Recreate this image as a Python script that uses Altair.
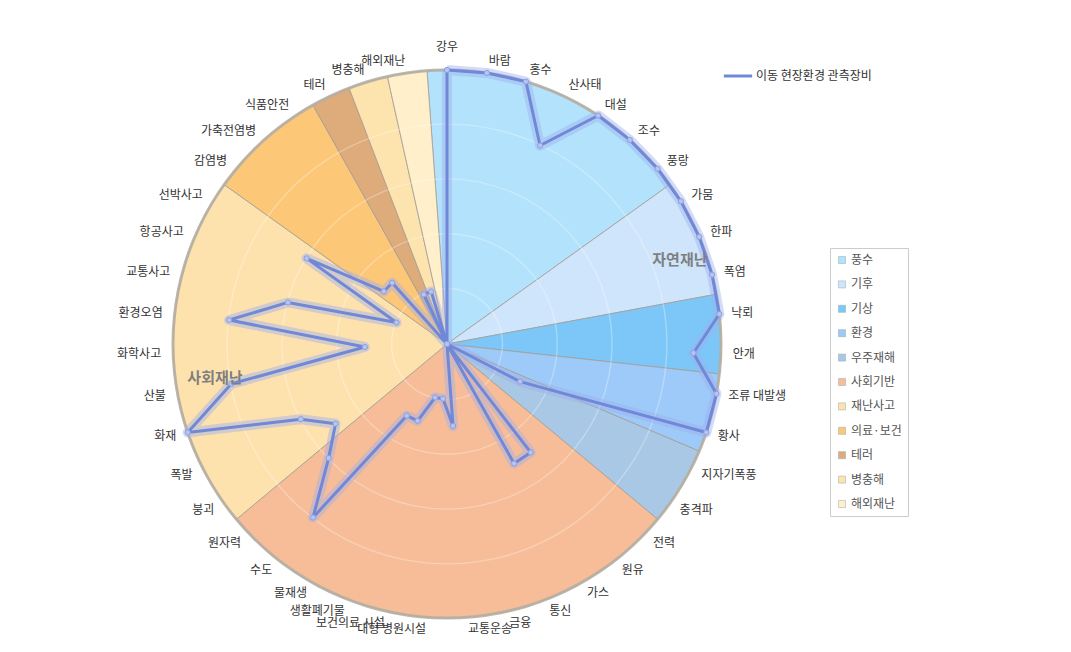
import altair as alt
import pandas as pd

# ---------------- data ----------------
categories = ["강우", "바람", "홍수", "산사태", "대설", "조수", "풍랑", "가뭄", "한파", "폭염",
              "낙뢰", "안개", "조류 대발생", "황사", "지자기폭풍", "충격파", "전력", "원유", "가스", "통신",
              "금융", "교통운송", "대형 병원시설", "보건의료 시설", "생활폐기물", "물재생", "수도", "원자력",
              "붕괴", "폭발", "화재", "산불", "화학사고", "환경오염", "교통사고", "항공사고", "선박사고",
              "감염병", "가축전염병", "식품안전", "테러", "병충해", "해외재난"]
values = [10, 10, 10, 8, 10, 10, 10, 10, 10, 10,
          10, 9, 10, 10, 3, 0, 0, 5, 5, 0,
          0, 3, 2, 2, 3, 3, 8, 6,
          5, 6, 10, 8, 3, 8, 6, 2, 6,
          3, 3, 0, 2, 2, 0]
groups = ["풍수", "기후", "기상", "환경", "우주재해", "사회기반", "재난사고", "의료·보건", "테러", "병충해", "해외재난"]
group_counts = [7, 3, 2, 2, 2, 12, 9, 3, 1, 1, 1]
group_colors = ["#b2e2fc", "#cfe5fb", "#7dc7f8", "#9dcaf9", "#a8c8e6", "#f6bd98",
                "#fee2ae", "#fdc778", "#deab7b", "#fde3ad", "#fff0cb"]
ring_levels = [2, 4, 6, 8]
series_name = "이동 현장환경 관측장비"
region_labels = ["자연재난", "사회재난"]

N = len(categories)
VMAX = 10
R = 274
FONT = "Noto Sans CJK KR"

radar = pd.DataFrame({"idx": list(range(N)) + [N],
                      "cat": categories + [categories[0]],
                      "value": values + [values[0]]})
labels_df = pd.DataFrame({"idx": list(range(N)), "cat": categories})
pie_df = pd.DataFrame({"group": groups, "count": group_counts, "order": list(range(len(groups)))})
ring_df = pd.DataFrame({"r": ring_levels})
region_df = pd.DataFrame({"label": region_labels, "px": [8.5, -8.47], "py": [3.07, -1.24]})

xs = alt.Scale(domain=[-VMAX, VMAX], nice=False, zero=False)
ys = alt.Scale(domain=[-VMAX, VMAX], nice=False, zero=False)

ang = f"datum.idx * 2 * PI / {N}"

# ---------------- pie background ----------------
pie = alt.Chart(pie_df).transform_window(
    cum="sum(count)", sort=[alt.SortField("order")], frame=[None, 0]
).transform_calculate(
    t0=f"(datum.cum - datum.count) * 2 * PI / {N} - PI / {N}",
    t1=f"datum.cum * 2 * PI / {N} - PI / {N}",
).mark_arc(radius=R, stroke="#a39d94", strokeWidth=0.8).encode(
    theta=alt.Theta("t0:Q", scale=None),
    theta2="t1:Q",
    fill=alt.Fill("group:N", scale=alt.Scale(domain=groups, range=group_colors),
                  sort=groups,
                  legend=alt.Legend(title=None, orient="none", legendX=657, legendY=178,
                                    strokeColor="#cccccc", fillColor="white", padding=6,
                                    symbolType="square", symbolSize=50, symbolStrokeColor="#9aa",
                                    symbolStrokeWidth=0.5, labelFontSize=12, labelColor="#555555",
                                    labelFont=FONT, rowPadding=12.4, labelOffset=3)),
)

rings = alt.Chart(ring_df).transform_calculate(r2="datum.r + 0.05").mark_arc(
    theta=0, theta2=6.2832, fill="white", opacity=0.3
).encode(
    radius=alt.Radius("r:Q", scale=alt.Scale(type="linear", domain=[0, VMAX], range=[0, R], zero=True)),
    radius2="r2:Q",
)

rim = alt.Chart(ring_df).transform_filter("datum.r == 2").mark_arc(
    theta=0, theta2=6.2832, radius=R + 1.5, radius2=R - 1.5, fill="#b5aea2"
).encode(opacity=alt.value(0.9))

# ---------------- radar line ----------------
radar_base = alt.Chart(radar).transform_calculate(
    x=f"datum.value * sin({ang})",
    y=f"datum.value * cos({ang})",
)

halo = radar_base.mark_line(strokeWidth=10, strokeJoin="round", color="#9fb0ea", opacity=0.45).encode(
    x=alt.X("x:Q", scale=xs, axis=None),
    y=alt.Y("y:Q", scale=ys, axis=None),
    order="idx:Q",
)

line = radar_base.mark_line(strokeWidth=3, strokeJoin="round").encode(
    x=alt.X("x:Q", scale=xs, axis=None),
    y=alt.Y("y:Q", scale=ys, axis=None),
    order="idx:Q",
    stroke=alt.Stroke("series:N", scale=alt.Scale(domain=[series_name], range=["#6f88d8"]),
                      legend=alt.Legend(title=None, orient="none", legendX=549, legendY=-10,
                                        symbolType="stroke", symbolSize=800, symbolStrokeWidth=3,
                                        labelFontSize=12, labelColor="#333333", labelFont=FONT,
                                        labelOffset=2)),
).transform_calculate(series=f"'{series_name}'")

points = radar_base.transform_filter(f"datum.idx < {N}").mark_point(
    filled=True, size=28, color="#b7c3f0", stroke="#8aa0e0", strokeWidth=1, opacity=1
).encode(
    x=alt.X("x:Q", scale=xs, axis=None),
    y=alt.Y("y:Q", scale=ys, axis=None),
)

# ---------------- category labels ----------------
LR = 286 / R * VMAX
lab_base = alt.Chart(labels_df).transform_calculate(
    s=f"sin({ang})",
    lx=f"{LR} * sin({ang})",
    ly=f"{LR} * cos({ang})",
    tx=f"{290 / R * VMAX} * sin({ang})",
    ty=f"{290 / R * VMAX} * cos({ang})",
)
lab_right = lab_base.transform_filter("datum.s > 0.01").mark_text(
    align="left", baseline="middle", fontSize=12, font=FONT, color="#333333"
).encode(x=alt.X("lx:Q", scale=xs, axis=None), y=alt.Y("ly:Q", scale=ys, axis=None), text="cat:N")
lab_left = lab_base.transform_filter("datum.s < -0.01").mark_text(
    align="right", baseline="middle", fontSize=12, font=FONT, color="#333333"
).encode(x=alt.X("lx:Q", scale=xs, axis=None), y=alt.Y("ly:Q", scale=ys, axis=None), text="cat:N")
lab_top = lab_base.transform_filter("abs(datum.s) <= 0.01").mark_text(
    align="center", baseline="bottom", fontSize=12, font=FONT, color="#333333"
).encode(x=alt.X("tx:Q", scale=xs, axis=None), y=alt.Y("ty:Q", scale=ys, axis=None), text="cat:N")

regions = alt.Chart(region_df).mark_text(
    fontSize=15, fontWeight="bold", font=FONT, color="#7f7f7f", align="center", baseline="middle"
).encode(x=alt.X("px:Q", scale=xs, axis=None), y=alt.Y("py:Q", scale=ys, axis=None), text="label:N")

chart = alt.layer(
    pie, rings, rim, halo, line, points, lab_right, lab_left, lab_top, regions
).resolve_scale(
    fill="independent", stroke="independent"
).properties(
    width=2 * R, height=2 * R,
    autosize=alt.AutoSizeParams(type="none"),
    padding={"left": 173, "top": 70, "right": 1071 - 173 - 2 * R, "bottom": 652 - 70 - 2 * R},
).configure(font=FONT, background="white").configure_view(stroke=None, strokeWidth=0)

chart.save("out.html", embed_options={"renderer": "svg", "actions": False})
